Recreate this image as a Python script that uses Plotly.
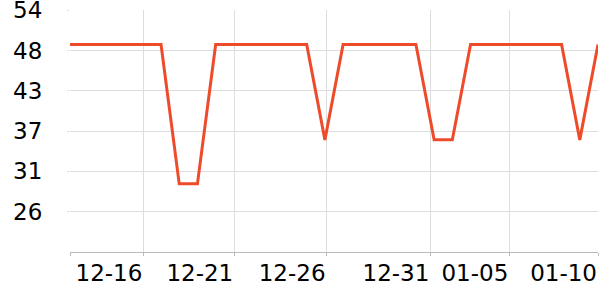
import pandas as pd
import plotly.graph_objects as go

# Data
dates = pd.date_range("2023-12-12", "2024-01-10", freq="D")
values = [49, 49, 49, 49, 49, 49, 30, 30, 49, 49,
          49, 49, 49, 49, 36, 49, 49, 49, 49, 49,
          36, 36, 49, 49, 49, 49, 49, 49, 36, 49]
x_tick_labels = ["", "12-16", "12-21", "12-26", "12-31", "01-05", "01-10"]
y_tick_labels = ["26", "31", "37", "43", "48", "54"]

# Layout positions (tick placement)
x_tick_pos = ["2023-12-12", "2023-12-16 00:43", "2023-12-21 00:29", "2023-12-26 02:10",
              "2023-12-31 19:00", "2024-01-05 03:07", "2024-01-10"]
y_tick_pos = [26.2, 31.7, 37.2, 42.7, 48.2, 53.69]

fig = go.Figure()
fig.add_trace(go.Scatter(
    x=dates, y=values, mode="lines",
    line=dict(color="#EE4B2B", width=3),
    showlegend=False,
))

fig.update_layout(
    width=600, height=300,
    margin=dict(l=70, r=2, t=10, b=48, autoexpand=False),
    paper_bgcolor="white", plot_bgcolor="white",
    font=dict(family="DejaVu Sans", size=23, color="black"),
)
fig.update_xaxes(
    type="date",
    range=[dates[0], dates[-1]],
    automargin=False,
    tickmode="array", tickvals=x_tick_pos, ticktext=x_tick_labels,
    ticklabelposition="outside left",
    ticklabeloverflow="allow",
    showgrid=True, gridcolor="#dddddd", gridwidth=1,
    showline=True, linecolor="#bbbbbb", linewidth=1,
    ticks="outside", ticklen=3, tickcolor="#bbbbbb",
    zeroline=False,
)
fig.update_yaxes(
    range=[20.7, 53.72],
    automargin=False,
    tickmode="array", tickvals=y_tick_pos, ticktext=y_tick_labels,
    ticklabeloverflow="allow",
    showgrid=True, gridcolor="#dddddd", gridwidth=1,
    showline=False,
    ticks="outside", ticklen=2, tickcolor="#dddddd",
    ticklabelstandoff=20,
    zeroline=False,
)

fig.write_html("out.html")
